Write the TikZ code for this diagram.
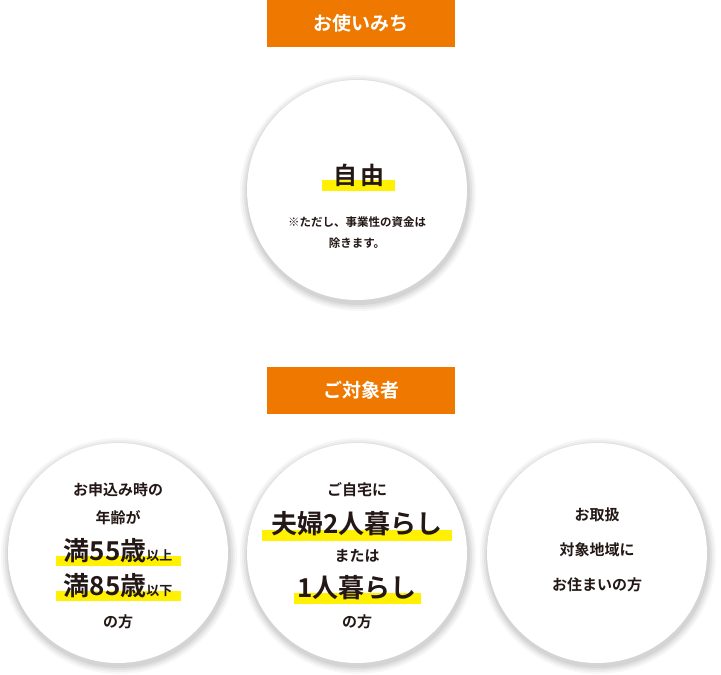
\documentclass[tikz,border=0pt]{standalone}
\usepackage{fontspec}
\setmainfont{Noto Sans CJK JP Bold}
\usetikzlibrary{backgrounds}
\pgfdeclarelayer{bgl}\pgfdeclarelayer{hl}
\pgfsetlayers{bgl,hl,main}
\definecolor{org}{HTML}{EE7800}
\definecolor{hly}{HTML}{FFF100}
\definecolor{txt}{HTML}{231815}
\tikzset{
  hdr/.style={fill=org,text=white,minimum width=188pt,minimum height=47pt,inner sep=0,font=\fontsize{19}{19}\selectfont},
  t/.style={text=txt,inner sep=0,font=\fontsize{15}{15}\selectfont},
  sm/.style={text=txt,inner sep=0,font=\fontsize{11.5}{11.5}\selectfont},
  big/.style={text=txt,inner sep=0,font=\fontsize{26}{26}\selectfont},
}
\newcommand{\mycirc}[2]{%
 \begin{pgfonlayer}{bgl}
 \foreach \r/\o in {118/0.03,116/0.04,114/0.05,112/0.06}{\fill[black,opacity=\o] (#1+1,#2+3) circle (\r pt);}
 \fill[white] (#1,#2) circle (110pt);
 \end{pgfonlayer}}
\begin{document}
\begin{tikzpicture}[x=1pt,y=-1pt]
\useasboundingbox (0,0) rectangle (721,675);
\node[hdr] (h1) at (361,23.5) {お使いみち};
\mycirc{357}{190}
\node[big,font=\fontsize{24}{24}\selectfont] (a1) at (359,175) {自\,由};
\begin{pgfonlayer}{hl}\fill[hly] (322,180) rectangle (395,191);\end{pgfonlayer}
\node[sm] (a2) at (357,222) {※ただし、事業性の資金は};
\node[sm] (a3) at (357,243) {除きます。};
\node[hdr] (h2) at (361,390.5) {ご対象者};
\mycirc{118}{553}\mycirc{357}{553}\mycirc{597}{553}
\node[t] (b1) at (118,490) {お申込み時の};
\node[t] (b2) at (118,518) {年齢が};
\node[big] (b3) at (118,551) {満55歳{\fontsize{13}{13}\selectfont 以上}};
\node[big] (b4) at (118,586) {満85歳{\fontsize{13}{13}\selectfont 以下}};
\node[t] (b5) at (118,622) {の方};
\begin{pgfonlayer}{hl}
\fill[hly] (56,556) rectangle (181,566);
\fill[hly] (56,591) rectangle (181,601);
\fill[hly] (262,530) rectangle (452,541);
\fill[hly] (294,593) rectangle (421,604);
\end{pgfonlayer}
\node[t] (c1) at (357,490) {ご自宅に};
\node[big] (c2) at (357,524) {夫婦2人暮らし};
\node[t] (c3) at (357,556) {または};
\node[big] (c4) at (357,588) {1人暮らし};
\node[t] (c5) at (357,622) {の方};
\node[t] (d1) at (597,515) {お取扱};
\node[t] (d2) at (597,550) {対象地域に};
\node[t] (d3) at (597,585) {お住まいの方};
\end{tikzpicture}
\end{document}
